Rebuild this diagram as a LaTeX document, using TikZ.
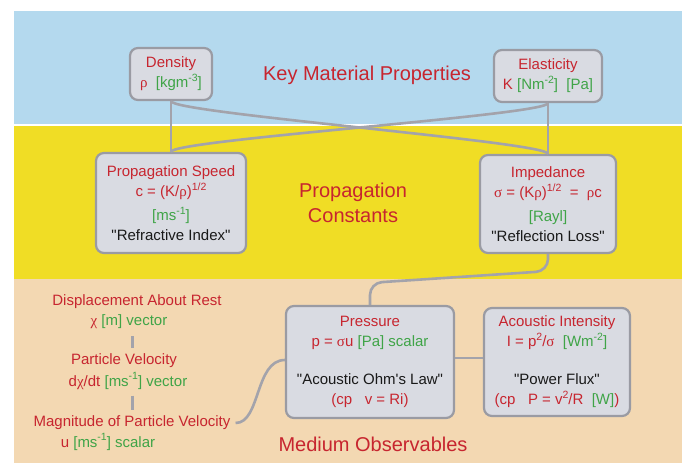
\documentclass[tikz,border=0pt]{standalone}
\usepackage{fontspec}
\setmainfont{Liberation Sans}[Ligatures=TeXOff]
\newfontfamily\grkfont{Liberation Serif}

\definecolor{bandblue}{RGB}{180,217,238}
\definecolor{bandyellow}{RGB}{240,221,37}
\definecolor{bandpeach}{RGB}{243,216,178}
\definecolor{boxfill}{RGB}{217,219,226}
\definecolor{boxline}{RGB}{154,155,163}
\definecolor{connline}{RGB}{163,163,171}
\definecolor{txtred}{RGB}{199,37,47}
\definecolor{txtgreen}{RGB}{63,164,71}
\definecolor{txtblack}{RGB}{25,25,25}

% small helpers for the labels
\newcommand{\gk}[1]{{\grkfont #1}}
\newcommand{\spx}[1]{\raisebox{0.42em}{\fontsize{10.5}{10.5}\selectfont #1}}
\newcommand{\rd}[1]{\textcolor{txtred}{#1}}
\newcommand{\gn}[1]{\textcolor{txtgreen}{#1}}

\tikzset{
  qbox/.style={draw=boxline, line width=2.2pt, fill=boxfill, rounded corners=8pt,
    align=center, inner sep=0pt, text=txtblack,
    font=\fontsize{15}{20}\selectfont},
  bandtitle/.style={text=txtred, align=center, inner sep=0pt,
    font=\fontsize{20}{25}\selectfont},
  plain/.style={inner sep=0pt, align=center, font=\fontsize{15}{20}\selectfont},
  conn/.style={draw=connline, line width=2.6pt},
  tick/.style={draw=connline, line width=3pt}
}

\begin{document}
\begin{tikzpicture}[x=1pt,y=-1pt]
\useasboundingbox (0,0) rectangle (686,463);

% background bands
\fill[bandblue]   (14,11)  rectangle (682,124);
\fill[bandyellow] (14,126) rectangle (682,279);
\fill[bandpeach]  (14,279) rectangle (682,463);

% band titles
\node[bandtitle] (kmp) at (367,75)  {Key Material Properties};
\node[bandtitle] (pc)  at (353,203) {Propagation\\Constants};
\node[bandtitle] (mo)  at (373,444) {Medium Observables};

% material properties
\node[qbox, minimum width=82pt, minimum height=52pt] (dens) at (171,74)
  {\rd{Density}\\\rd{\gk{ρ}}\ \ \gn{[kgm\spx{-3}]}};
\node[qbox, minimum width=108pt, minimum height=52pt] (ela) at (548,76)
  {\rd{Elasticity}\\\rd{K} \gn{[Nm\spx{-2}]\ \ [Pa]}};

% propagation constants
\node[qbox, minimum width=150pt, minimum height=100pt] (speed) at (171,203)
  {\rd{Propagation Speed}\\\rd{c = (K/\gk{ρ})\spx{1/2}}\\[4pt]\gn{[ms\spx{-1}]}\\"Refractive Index"};
\node[qbox, minimum width=136pt, minimum height=98pt] (imp) at (548,204)
  {\rd{Impedance}\\\rd{\gk{σ} = (K\gk{ρ})\spx{1/2}\ \ =\ \ \gk{ρ}c}\\[4pt]\gn{[Rayl]}\\"Reflection Loss"};

% medium observables
\node[qbox, minimum width=168pt, minimum height=112pt] (pres) at (370,362)
  {\rd{Pressure}\\\rd{p = \gk{σ}u} \gn{[Pa] scalar}\\[18pt]"Acoustic Ohm's Law"\\\rd{(cp\ \ \ v = Ri)}};
\node[qbox, minimum width=146pt, minimum height=108pt] (inten) at (557,362)
  {\rd{Acoustic Intensity}\\\rd{I = p\spx{2}/\gk{σ}}\ \ \gn{[Wm\spx{-2}]}\\[18pt]"Power Flux"\\\rd{(cp\ \ \ P = v\spx{2}/R}\ \ \gn{[W]}\rd{)}};

% particle motion column
\node[plain] (disp) at (137,302) {\rd{Displacement About Rest}};
\node[plain] (chi)  at (129,322) {\rd{\gk{χ}} \gn{[m] vector}};
\node[plain] (pvel) at (124,361) {\rd{Particle Velocity}};
\node[plain] (dchi) at (128,381) {\rd{d\gk{χ}/dt} \gn{[ms\spx{-1}] vector}};
\node[plain] (mag)  at (132,423) {\rd{Magnitude of Particle Velocity}};
\node[plain] (uval) at (108,442) {\rd{u} \gn{[ms\spx{-1}] scalar}};

% connectors
\draw[conn] (dens.south) -- (speed.north);
\draw[conn] (ela.south) -- (imp.north);
\draw[conn] (dens.south) .. controls +(0,12) and +(0,-12) .. (imp.north);
\draw[conn] (ela.south) .. controls +(0,12) and +(0,-12) .. (speed.north);
\draw[conn, rounded corners=12pt] (imp.south) -- ++(0,17) -- ([yshift=22pt]pres.north) -- (pres.north);
\draw[conn] ([yshift=4pt]pres.east) -- ([yshift=4pt]inten.west);
\draw[conn] ([xshift=5pt]mag.east) .. controls +(25,0) and +(-30,0) .. ([yshift=2pt]pres.west);
\draw[tick, shorten <=7pt, shorten >=6pt] (chi.south -| mag.north) -- (pvel.north -| mag.north);
\draw[tick, shorten <=6pt, shorten >=6pt] (dchi.south -| mag.north) -- (mag.north);
\end{tikzpicture}
\end{document}
